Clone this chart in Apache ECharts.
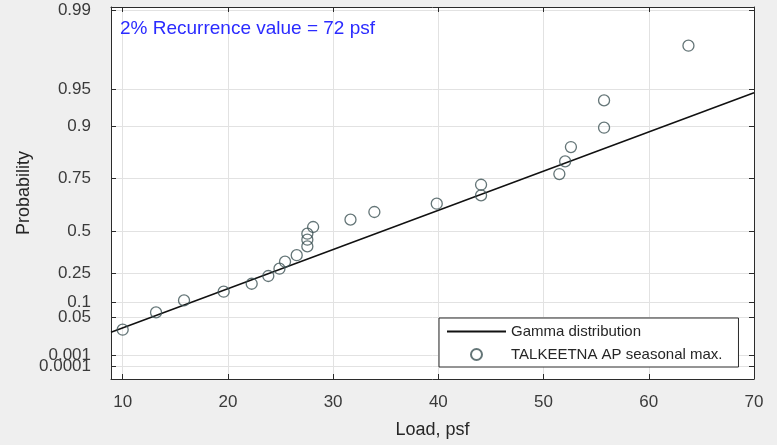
<!DOCTYPE html>
<html>
<head>
<meta charset="utf-8">
<script src="https://cdn.jsdelivr.net/npm/echarts@6/dist/echarts.min.js"></script>
<style>
  html, body { margin: 0; padding: 0; background: #efefef; }
  #chart { width: 777px; height: 445px; }
</style>
</head>
<body>
<div id="chart"></div>
<script>
// ---- Data (y axis is a probability scale; positions expressed as the
//      fitted-gamma equivalent load, psf, so the fitted distribution is y = x) ----
const xTicks = [10, 20, 30, 40, 50, 60, 70];
const probLabels = ['0.99', '0.95', '0.9', '0.75', '0.5', '0.25', '0.1', '0.05', '0.001', '0.0001'];
const probPositions = [90.92, 70.94, 61.40, 48.06, 34.61, 23.99, 16.59, 12.66, 3.07, 0.16];

const loads = [10.0, 13.17, 15.83, 19.6, 22.26, 23.84, 24.9, 25.43, 26.54, 27.55, 27.55, 27.55,
               28.1, 31.65, 33.92, 39.85, 44.06, 44.06, 51.5, 52.05, 52.6, 55.75, 55.75, 63.77];
const plotPositions = [9.53, 13.94, 17.00, 19.22, 21.26, 23.23, 25.09, 26.88, 28.54, 30.78, 32.49, 34.02,
                       35.73, 37.60, 39.56, 41.68, 43.79, 46.52, 49.25, 52.47, 56.14, 61.07, 68.04, 81.99];

const gammaLoads = [8.89, 70];
const gammaPositions = [8.89, 70];

const xMin = 8.89, xMax = 70;
const yMin = -3.05, yMax = 91.87;

const annotation = '2% Recurrence value = 72 psf';
const seriesNames = ['Gamma distribution', 'TALKEETNA AP seasonal max.'];

// ---- Build ----
const scatterData = loads.map((v, i) => [v, plotPositions[i]]);
const lineData = gammaLoads.map((v, i) => [v, gammaPositions[i]]);

function probLabel(v) {
  let best = 0, d = Infinity;
  probPositions.forEach((p, i) => { const dd = Math.abs(p - v); if (dd < d) { d = dd; best = i; } });
  return probLabels[best];
}
// split labels over two overlaid axes so that close neighbours are not dropped
const evenPos = probPositions.filter((p, i) => i % 2 === 0);
const oddPos = probPositions.filter((p, i) => i % 2 === 1);

const frame = { color: '#2b2b2b', width: 1 };
const font = 'Liberation Sans, Arial, sans-serif';
const gridColor = '#e2e2e2';

function labelAxis(values) {
  return {
    type: 'value', min: yMin, max: yMax, position: 'left', offset: 0,
    axisLine: { show: false }, axisTick: { show: false }, splitLine: { show: false },
    axisLabel: {
      show: true, customValues: values, margin: 20, fontSize: 17, color: '#3a3a3a',
      fontFamily: font, hideOverlap: false, showMinLabel: true, showMaxLabel: true,
      formatter: v => probLabel(v)
    }
  };
}

const chart = echarts.init(document.getElementById('chart'), null, { renderer: 'canvas' });
chart.setOption({
  backgroundColor: '#efefef',
  animation: false,
  title: {
    text: annotation,
    left: 120, top: 19, padding: 0,
    textStyle: { color: '#2b2bff', fontSize: 19, fontWeight: 'normal', fontFamily: font }
  },
  grid: {
    left: 111, right: 23, top: 7, bottom: 66,
    show: true, backgroundColor: '#ffffff', borderWidth: 0,
    containLabel: false, outerBoundsMode: 'none'
  },
  legend: {
    orient: 'vertical',
    left: 439, top: 318,
    padding: [6, 16, 5, 7],
    itemGap: 8,
    itemWidth: 59, itemHeight: 11,
    backgroundColor: '#ffffff',
    borderColor: '#2b2b2b', borderWidth: 1, borderRadius: 0,
    textStyle: { fontSize: 15, color: '#262626', fontFamily: font },
    data: [
      { name: seriesNames[0], itemStyle: { color: 'rgba(0,0,0,0)', borderColor: 'rgba(0,0,0,0)', borderWidth: 0 } },
      { name: seriesNames[1] }
    ]
  },
  xAxis: [
    {
      type: 'value', min: xMin, max: xMax, position: 'bottom',
      name: 'Load, psf', nameLocation: 'middle', nameGap: 42, nameMoveOverlap: false,
      nameTextStyle: { fontSize: 18, color: '#262626', fontFamily: font },
      axisLine: { show: true, onZero: false, lineStyle: frame },
      axisTick: { show: true, inside: true, length: 5, customValues: xTicks, lineStyle: frame },
      axisLabel: { show: true, customValues: xTicks, margin: 15, fontSize: 17, color: '#3a3a3a', fontFamily: font,
                   hideOverlap: false, showMinLabel: true, showMaxLabel: true },
      splitLine: { show: true, lineStyle: { color: gridColor, width: 1 } }
    },
    {
      type: 'value', min: xMin, max: xMax, position: 'top',
      axisLine: { show: true, onZero: false, lineStyle: frame },
      axisTick: { show: true, inside: true, length: 5, customValues: xTicks, lineStyle: frame },
      axisLabel: { show: false },
      splitLine: { show: false }
    }
  ],
  yAxis: [
    {
      type: 'value', min: yMin, max: yMax, position: 'left',
      name: 'Probability', nameLocation: 'middle', nameGap: 78, nameRotate: 90, nameMoveOverlap: false,
      nameTextStyle: { fontSize: 18, color: '#262626', fontFamily: font },
      axisLine: { show: true, onZero: false, lineStyle: frame },
      axisTick: { show: true, inside: true, length: 5, customValues: probPositions, lineStyle: frame },
      axisLabel: { show: false, customValues: probPositions },
      splitLine: { show: true, lineStyle: { color: gridColor, width: 1 } }
    },
    {
      type: 'value', min: yMin, max: yMax, position: 'right',
      axisLine: { show: true, onZero: false, lineStyle: frame },
      axisTick: { show: true, inside: true, length: 5, customValues: probPositions, lineStyle: frame },
      axisLabel: { show: false },
      splitLine: { show: false }
    },
    labelAxis(evenPos),
    labelAxis(oddPos)
  ],
  series: [
    {
      name: seriesNames[0], type: 'line', xAxisIndex: 0, yAxisIndex: 0,
      data: lineData, showSymbol: false, symbol: 'none',
      lineStyle: { color: '#111111', width: 1.5 }, itemStyle: { color: '#111111' },
      silent: true, z: 2
    },
    {
      name: seriesNames[1], type: 'scatter', xAxisIndex: 0, yAxisIndex: 0,
      data: scatterData, symbol: 'circle', symbolSize: 11,
      itemStyle: { color: 'rgba(255,255,255,0)', borderColor: '#3d5355', borderWidth: 1.3 },
      z: 3
    }
  ]
});
</script>
</body>
</html>
